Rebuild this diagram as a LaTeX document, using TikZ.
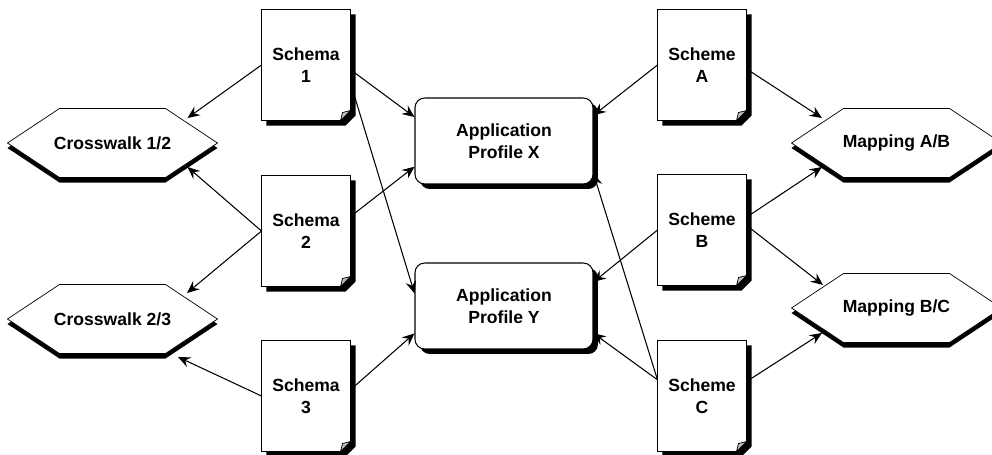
\documentclass[tikz,border=0pt]{standalone}
\usepackage{fontspec}
\setmainfont{Liberation Sans}
\usetikzlibrary{shadows,backgrounds,arrows.meta}

\tikzset{
  doc/.style={rectangle, minimum width=1.76cm, minimum height=2.2cm,
              align=center, inner sep=0pt},
  profile/.style={rectangle, rounded corners=5.5pt, draw, fill=white,
              minimum width=3.56cm, minimum height=1.72cm, align=center,
              drop shadow={shadow xshift=0.1cm, shadow yshift=-0.1cm,
                           opacity=1, fill=black}},
  xwalk/.style={rectangle, minimum width=4.18cm, minimum height=1.36cm,
              inner sep=0pt},
  link/.style={-{Stealth[length=7pt,width=6pt,inset=2.5pt]}}
}

\begin{document}
\begin{tikzpicture}[x=0.02cm, y=-0.02cm, line width=0.6pt,
                    font=\bfseries\fontsize{10}{12.5}\selectfont]
\useasboundingbox (0,0) rectangle (992,454);

% schemas and schemes
\node[doc] (s1) at (306,65)  {Schema\\1};
\node[doc] (s2) at (306,231) {Schema\\2};
\node[doc] (s3) at (306,396) {Schema\\3};
\node[doc] (sa) at (702,65)  {Scheme\\A};
\node[doc] (sb) at (702,230) {Scheme\\B};
\node[doc] (sc) at (702,396) {Scheme\\C};

% profiles
\node[profile] (px) at (504,141) {Application\\Profile X};
\node[profile] (py) at (504,306) {Application\\Profile Y};

% crosswalks and mappings
\node[xwalk] (cw1) at (112.5,143) {Crosswalk 1/2};
\node[xwalk] (cw2) at (112.5,319) {Crosswalk 2/3};
\node[xwalk] (ma)  at (896.5,143) {Mapping A/B};
\node[xwalk] (mb)  at (896.5,308) {Mapping B/C};

% where the arrows meet the hexagons
\coordinate (cw1a) at ([shift={(75,-25)}]cw1.center);
\coordinate (cw1b) at ([shift={(75,24)}]cw1.center);
\coordinate (cw2a) at ([shift={(74.5,-26)}]cw2.center);
\coordinate (cw2b) at ([shift={(65.5,38)}]cw2.center);
\coordinate (maa)  at ([shift={(-74.5,-25)}]ma.center);
\coordinate (mab)  at ([shift={(-74.5,24)}]ma.center);
\coordinate (mba)  at ([shift={(-73.5,-23)}]mb.center);
\coordinate (mbb)  at ([shift={(-74.5,25)}]mb.center);

\begin{scope}[on background layer]
% pages with shadow and folded corner
\foreach \d in {s1,s2,s3,sa,sb,sc}{
  \fill ([shift={(5,5)}]\d.north west) -- ([shift={(5,5)}]\d.north east)
     -- ([shift={(5,-5)}]\d.south east) -- ([shift={(-5,5)}]\d.south east)
     -- ([shift={(5,5)}]\d.south west) -- cycle;
  \draw[fill=white] (\d.north west) -- (\d.north east)
     -- ([shift={(0,-10)}]\d.south east) -- ([shift={(-10,0)}]\d.south east)
     -- (\d.south west) -- cycle;
  \filldraw[fill=gray!50] ([shift={(0,-10)}]\d.south east)
     -- ([shift={(-10,0)}]\d.south east) -- ([shift={(-8,-8)}]\d.south east) -- cycle;
}
% hexagons with shadow
\foreach \h in {cw1,cw2,ma,mb}{
  \fill ([shift={(0,5)}]\h.west) -- ([shift={(52,5)}]\h.north west)
     -- ([shift={(-52,5)}]\h.north east) -- ([shift={(0,5)}]\h.east)
     -- ([shift={(-52,5)}]\h.south east) -- ([shift={(52,5)}]\h.south west) -- cycle;
  \draw[fill=white] (\h.west) -- ([shift={(52,0)}]\h.north west)
     -- ([shift={(-52,0)}]\h.north east) -- (\h.east)
     -- ([shift={(-52,0)}]\h.south east) -- ([shift={(52,0)}]\h.south west) -- cycle;
}
\end{scope}

\foreach \i/\j in {s1.west/cw1a, s1.-6/px.165, s1.-22/py.172,
                   s2.west/cw1b, s2.west/cw2a, s2.18/px.196,
                   s3.west/cw2b, s3.8/py.197,
                   sa.west/px.16, sa.-5/maa,
                   sb.west/py.15, sb.16/mab, sb.6/mba,
                   sc.160/px.-20, sc.160/py.-17, sc.18/mbb}
  {\draw[link] (\i) -- (\j);}
\end{tikzpicture}
\end{document}
